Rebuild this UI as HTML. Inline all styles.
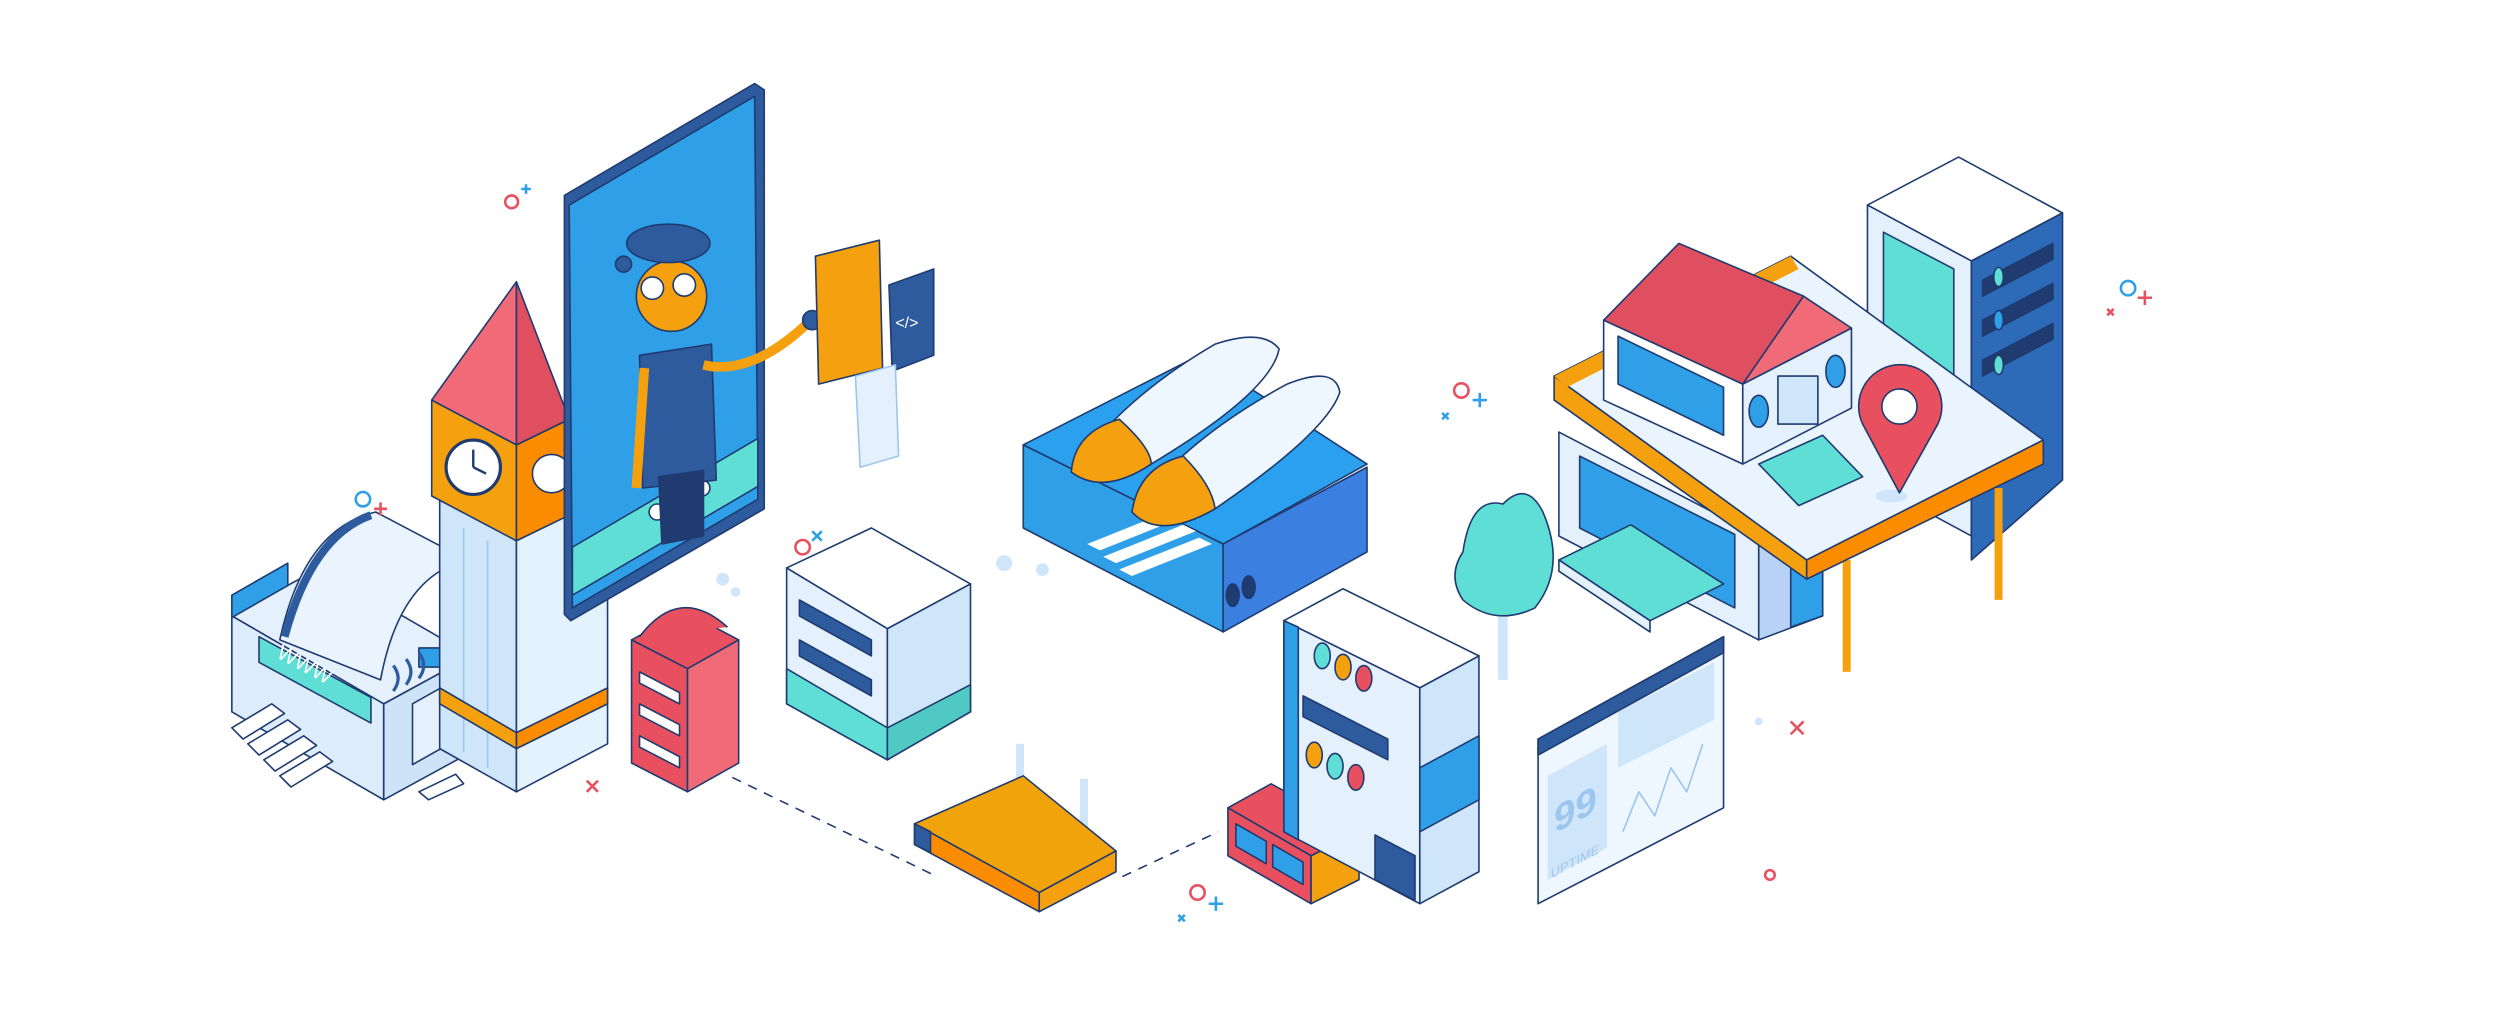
<!DOCTYPE html>
<html><head><meta charset="utf-8"><style>
html,body{margin:0;padding:0;background:#fff;}
svg{display:block;}
text{font-family:"Liberation Sans",sans-serif;}
</style></head><body>
<svg width="2507" height="1024" viewBox="0 0 1568 640" xmlns="http://www.w3.org/2000/svg">
<g stroke="#1f3b70" stroke-width="1" stroke-linejoin="round">

<line x1="458" y1="486" x2="586" y2="548" stroke-dasharray="6,5" fill="none"/>
<line x1="702" y1="548" x2="762" y2="520" stroke-dasharray="6,5" fill="none"/>

<!-- Printer -->
<polygon points="145,385 200,355 295,410 240,440" fill="#e4f1fd"/>
<polygon points="145,385 240,440 240,500 145,445" fill="#dcecfb"/>
<polygon points="240,440 295,410 295,470 240,500" fill="#cfe3f8"/>
<polygon points="145,372 180,352 180,366 145,386" fill="#2f9fe8"/>
<polygon points="162,398 232,436 232,452 162,414" fill="#5fded6"/>
<text x="170" y="420" font-size="13" fill="#fff" stroke="none" transform="rotate(28 190 420)">WWW</text>
<path d="M175,400 Q190,330 235,320 L292,350 Q250,360 238,425 Z" fill="#e9f4ff"/>
<path d="M178,398 Q195,335 232,322" fill="none" stroke="#2d5b9e" stroke-width="5"/>
<polygon points="258,440 290,422 290,460 258,478" fill="#e4f1fd"/>
<rect x="262" y="405" width="20" height="12" fill="#2f9fe8"/>
<path d="M246,432 q6,-8 0,-16 M254,428 q6,-8 0,-16 M262,424 q6,-8 0,-16" fill="none" stroke="#2d5b9e" stroke-width="2"/>
<g fill="#fff">
<polygon points="145,455 170,440 178,446 152,462"/>
<polygon points="155,465 180,450 188,456 162,472"/>
<polygon points="165,475 190,460 198,466 172,482"/>
<polygon points="175,485 200,470 208,476 182,492"/>
</g>
<polygon points="262,495 285,484 290,490 268,500" fill="#fff"/>

<!-- Clock tower -->
<polygon points="275,310 323,338 323,495 275,468" fill="#cfe6fa"/>
<polygon points="323,338 380,310 380,465 323,495" fill="#e4f2fd"/>
<line x1="290" y1="330" x2="290" y2="470" stroke="#9cc6ee"/>
<line x1="305" y1="338" x2="305" y2="480" stroke="#9cc6ee"/>
<polygon points="275,430 323,458 323,468 275,440" fill="#f5a00f"/>
<polygon points="323,458 380,430 380,440 323,468" fill="#fb8c00"/>
<polygon points="270,250 323,278 323,338 270,310" fill="#f5a00f"/>
<polygon points="323,278 356,262 356,322 323,338" fill="#fb8c00"/>
<circle cx="296" cy="292" r="17" fill="#fff" stroke-width="2"/>
<path d="M296,292 L296,281 M296,292 L304,296" stroke-width="1.5"/>
<circle cx="345" cy="296" r="12" fill="#fff"/>
<polygon points="270,250 323,176 323,278" fill="#f06a78"/>
<polygon points="323,176 356,262 323,278" fill="#e04f60"/>

<!-- Tablet -->
<polygon points="353,122 472,52 478,56 478,318 357,388 353,384" fill="#2d5b9e"/>
<polygon points="356,128 472,60 474,312 358,380" fill="#2f9fe8"/>
<polygon points="358,342 474,274 474,304 358,372" fill="#5fded6"/>
<circle cx="411" cy="320" r="5" fill="#fff"/>
<circle cx="425" cy="313" r="5" fill="#fff"/>
<circle cx="439" cy="305" r="5" fill="#fff"/>
<polygon points="400,222 445,215 448,300 402,305" fill="#2d5b9e"/>
<polygon points="412,298 440,294 440,335 414,340" fill="#1f3b70"/>
<line x1="403" y1="230" x2="398" y2="305" stroke="#f5a00f" stroke-width="6"/>
<path d="M440,228 Q470,235 505,202" fill="none" stroke="#f5a00f" stroke-width="6"/>
<circle cx="508" cy="200" r="6" fill="#2d5b9e"/>
<circle cx="420" cy="185" r="22" fill="#f5a00f"/>
<ellipse cx="418" cy="152" rx="26" ry="12" fill="#2d5b9e"/>
<circle cx="408" cy="180" r="7" fill="#fff"/>
<circle cx="428" cy="178" r="7" fill="#fff"/>
<circle cx="390" cy="165" r="5" fill="#2d5b9e"/>
<polygon points="510,160 550,150 552,230 512,240" fill="#f5a00f"/>
<polygon points="556,178 584,168 584,222 558,232" fill="#2d5b9e"/>
<text x="560" y="205" font-size="10" fill="#fff" stroke="none">&lt;/&gt;</text>
<polygon points="535,235 560,228 562,285 538,292" fill="#e4f1fd" stroke="#9cc6ee"/>

<!-- Red mailbox -->
<polygon points="395,400 428,382 462,400 430,418" fill="#e8505f"/>
<polygon points="395,400 430,418 430,495 395,477" fill="#e8505f"/>
<polygon points="430,418 462,400 462,477 430,495" fill="#f06a78"/>
<path d="M400,398 Q425,365 455,392" fill="#e8505f"/>
<g fill="#fff"><polygon points="400,420 425,433 425,440 400,427"/><polygon points="400,440 425,453 425,460 400,447"/><polygon points="400,460 425,473 425,480 400,467"/></g>

<!-- White server -->
<polygon points="492,355 545,330 607,365 555,393" fill="#fff"/>
<polygon points="492,355 555,393 555,475 492,440" fill="#e4f1fd"/>
<polygon points="555,393 607,365 607,445 555,475" fill="#cfe6fa"/>
<polygon points="492,418 555,455 555,475 492,440" fill="#5fded6"/>
<polygon points="555,455 607,428 607,445 555,475" fill="#4fc9c1"/>
<polygon points="500,375 545,400 545,410 500,385" fill="#2d5b9e"/>
<polygon points="500,400 545,425 545,435 500,410" fill="#2d5b9e"/>

<!-- Shoe box -->
<polygon points="640,278 750,222 855,290 765,340" fill="#2aa0ee"/>
<polygon points="640,278 765,340 765,395 640,330" fill="#2f9fe8"/>
<polygon points="765,340 855,292 855,345 765,395" fill="#3b7fe0"/>
<g fill="#fff" stroke="none"><polygon points="680,340 730,320 738,324 688,344"/><polygon points="690,348 740,328 748,332 698,352"/><polygon points="700,356 750,336 758,340 708,360"/></g>
<ellipse cx="771" cy="372" rx="4" ry="7" fill="#1f3b70"/><ellipse cx="781" cy="367" rx="4" ry="7" fill="#1f3b70"/>
<path d="M670,295 Q700,250 760,215 Q790,205 800,218 Q795,245 720,290 Q690,310 670,295Z" fill="#eef6ff"/>
<path d="M670,295 Q672,270 700,262 Q720,280 720,290 Q690,310 670,295Z" fill="#f5a00f"/>
<path d="M708,320 Q740,275 805,240 Q835,228 838,245 Q830,270 760,318 Q725,338 708,320Z" fill="#eef6ff"/>
<path d="M708,320 Q712,292 740,285 Q758,303 760,318 Q725,338 708,320Z" fill="#f5a00f"/>

<!-- Router -->
<line x1="638" y1="465" x2="638" y2="500" stroke-width="5" stroke="#cfe6fa"/>
<line x1="678" y1="487" x2="678" y2="520" stroke-width="5" stroke="#cfe6fa"/>
<polygon points="572,515 640,485 698,532 650,558" fill="#f0a30a"/>
<polygon points="572,515 650,558 650,570 572,528" fill="#fb8c00"/>
<polygon points="650,558 698,532 698,545 650,570" fill="#f5a00f"/>
<polygon points="572,515 582,520 582,533 572,528" fill="#2d5b9e"/>

<!-- Red small box -->
<polygon points="768,505 795,490 850,520 820,535" fill="#e8505f"/>
<polygon points="768,505 820,535 820,565 768,535" fill="#e8505f"/>
<polygon points="820,535 850,520 850,550 820,565" fill="#f5a00f"/>
<polygon points="773,515 792,526 792,540 773,529" fill="#2f9fe8"/>
<polygon points="796,528 815,539 815,553 796,542" fill="#2f9fe8"/>

<!-- Server tower -->
<polygon points="803,388 840,368 925,410 888,430" fill="#fff"/>
<polygon points="803,388 888,430 888,565 803,520" fill="#e4f1fd"/>
<polygon points="888,430 925,410 925,545 888,565" fill="#cfe6fa"/>
<polygon points="888,480 925,460 925,500 888,520" fill="#2f9fe8"/>
<polygon points="803,388 812,392 812,525 803,520" fill="#2f9fe8"/>
<ellipse cx="827" cy="410" rx="5" ry="8" fill="#5fded6"/><ellipse cx="840" cy="417" rx="5" ry="8" fill="#f5a00f"/><ellipse cx="853" cy="424" rx="5" ry="8" fill="#e8505f"/>
<polygon points="815,435 868,462 868,475 815,448" fill="#2d5b9e"/>
<ellipse cx="822" cy="472" rx="5" ry="8" fill="#f5a00f"/><ellipse cx="835" cy="479" rx="5" ry="8" fill="#5fded6"/><ellipse cx="848" cy="486" rx="5" ry="8" fill="#e8505f"/>
<polygon points="860,522 885,535 885,563 860,550" fill="#2d5b9e"/>

<!-- Tree -->
<line x1="940" y1="380" x2="940" y2="425" stroke="#cfe6fa" stroke-width="6"/>
<path d="M915,345 Q920,310 940,315 Q955,300 965,320 Q980,355 960,380 Q935,392 915,375 Q905,360 915,345Z" fill="#5fded6"/>

<!-- Server rack right -->
<polygon points="1168,128 1225,98 1290,133 1233,163" fill="#fff"/>
<polygon points="1168,128 1233,163 1233,335 1168,300" fill="#e4f1fd"/>
<polygon points="1233,163 1290,133 1290,300 1233,350" fill="#2d6ab8"/>
<polygon points="1178,145 1222,168 1222,235 1178,212" fill="#5fded6"/>
<g fill="#1f3b70"><polygon points="1240,175 1284,152 1284,162 1240,185"/><polygon points="1240,200 1284,177 1284,187 1240,210"/><polygon points="1240,225 1284,202 1284,212 1240,235"/></g>
<ellipse cx="1250" cy="173" rx="3" ry="6" fill="#5fded6"/><ellipse cx="1250" cy="200" rx="3" ry="6" fill="#2f9fe8"/><ellipse cx="1250" cy="228" rx="3" ry="6" fill="#5fded6"/>

<!-- Desk -->
<line x1="1155" y1="350" x2="1155" y2="420" stroke="#f5a00f" stroke-width="5"/>
<line x1="1250" y1="305" x2="1250" y2="375" stroke="#f5a00f" stroke-width="5"/>
<polygon points="975,270 1100,335 1100,400 975,335" fill="#e4f1fd"/>
<polygon points="988,285 1085,334 1085,380 988,330" fill="#2f9fe8"/>
<polygon points="1100,335 1140,315 1140,385 1100,400" fill="#b8d2f5"/>
<polygon points="1120,325 1140,315 1140,385 1120,392" fill="#2f9fe8"/>
<polygon points="972,235 1120,160 1278,275 1130,350" fill="#e9f4ff"/>
<polygon points="972,235 1130,350 1130,362 972,250" fill="#f5a00f"/>
<polygon points="1130,350 1278,275 1278,290 1130,362" fill="#fb8c00"/>
<polygon points="972,235 1120,160 1125,168 980,242" fill="#f5a00f" stroke="none"/>
<polygon points="1100,290 1140,272 1165,298 1125,316" fill="#5fded6"/>
<polygon points="975,350 1020,328 1078,365 1032,388" fill="#5fded6"/>
<polygon points="975,350 1032,388 1032,395 975,357" fill="#e4f1fd"/>
<polygon points="1003,200 1090,240 1090,290 1003,250" fill="#fff"/>
<polygon points="1090,240 1158,205 1158,255 1090,290" fill="#e4f1fd"/>
<polygon points="1012,210 1078,242 1078,272 1012,240" fill="#2f9fe8"/>
<polygon points="1003,200 1050,152 1128,185 1090,240" fill="#e04f60"/>
<polygon points="1090,240 1128,185 1158,205" fill="#f06a78"/>
<ellipse cx="1100" cy="257" rx="6" ry="10" fill="#2f9fe8"/>
<ellipse cx="1148" cy="232" rx="6" ry="10" fill="#2f9fe8"/>
<rect x="1112" y="235" width="25" height="30" fill="#cfe6fa"/>
<ellipse cx="1183" cy="310" rx="10" ry="4" fill="#cfe6fa" stroke="none"/>
<path d="M1188,308 L1165,265 A26,26 0 1 1 1212,265 Z" fill="#e8505f"/>
<circle cx="1188" cy="254" r="11" fill="#fff"/>

<!-- Uptime screen -->
<polygon points="962,462 1078,398 1078,505 962,565" fill="#eef6ff"/>
<polygon points="962,462 1078,398 1078,408 962,472" fill="#2d5b9e"/>
<polygon points="968,485 1005,465 1005,530 968,550" fill="#cfe6fa" stroke="none"/>
<polygon points="1012,445 1072,414 1072,450 1012,480" fill="#cfe6fa" stroke="none"/>
<text x="972" y="518" font-size="24" font-weight="bold" fill="#9cc6ee" stroke="none" transform="skewY(-28) translate(0,520)">99</text>
<text x="970" y="540" font-size="8" fill="#9cc6ee" stroke="none" transform="skewY(-28) translate(0,525)">UPTIME</text>
<polyline points="1015,520 1025,495 1035,510 1045,480 1055,495 1065,465" fill="none" stroke="#9cc6ee"/>
</g>

<g fill="none" stroke-width="1.6">
<circle cx="320" cy="126" r="4" stroke="#e8505f"/><path d="M326,118 h6 M329,115 v6" stroke="#2f9fe8"/>
<circle cx="227" cy="312" r="4.5" stroke="#2f9fe8"/><path d="M234,318 h8 M238,314 v8" stroke="#e8505f"/>
<circle cx="502" cy="342" r="4.5" stroke="#e8505f"/><path d="M508,332 l6,6 M514,332 l-6,6" stroke="#2f9fe8"/>
<circle cx="914" cy="244" r="4.5" stroke="#e8505f"/><path d="M921,250 h9 M925.5,245.5 v9" stroke="#2f9fe8"/><path d="M902,258 l4,4 M906,258 l-4,4" stroke="#2f9fe8"/>
<circle cx="1331" cy="180" r="4.5" stroke="#2f9fe8"/><path d="M1337,186 h9 M1341.5,181.5 v9" stroke="#e8505f"/><path d="M1318,193 l4,4 M1322,193 l-4,4" stroke="#e8505f"/>
<circle cx="749" cy="558" r="4.5" stroke="#e8505f"/><path d="M756,565 h9 M760.5,560.5 v9" stroke="#2f9fe8"/><path d="M737,572 l4,4 M741,572 l-4,4" stroke="#2f9fe8"/>
<path d="M367,488 l7,7 M374,488 l-7,7" stroke="#e8505f"/>
<path d="M1120,451 l8,8 M1128,451 l-8,8" stroke="#e8505f"/>
<circle cx="1107" cy="547" r="3" stroke="#e8505f"/>
</g>
<g fill="#cfe6fa"><circle cx="628" cy="352" r="5"/><circle cx="652" cy="356" r="4"/><circle cx="452" cy="362" r="4"/><circle cx="460" cy="370" r="3"/><circle cx="1100" cy="451" r="2.5"/></g>
</svg>
</body></html>
